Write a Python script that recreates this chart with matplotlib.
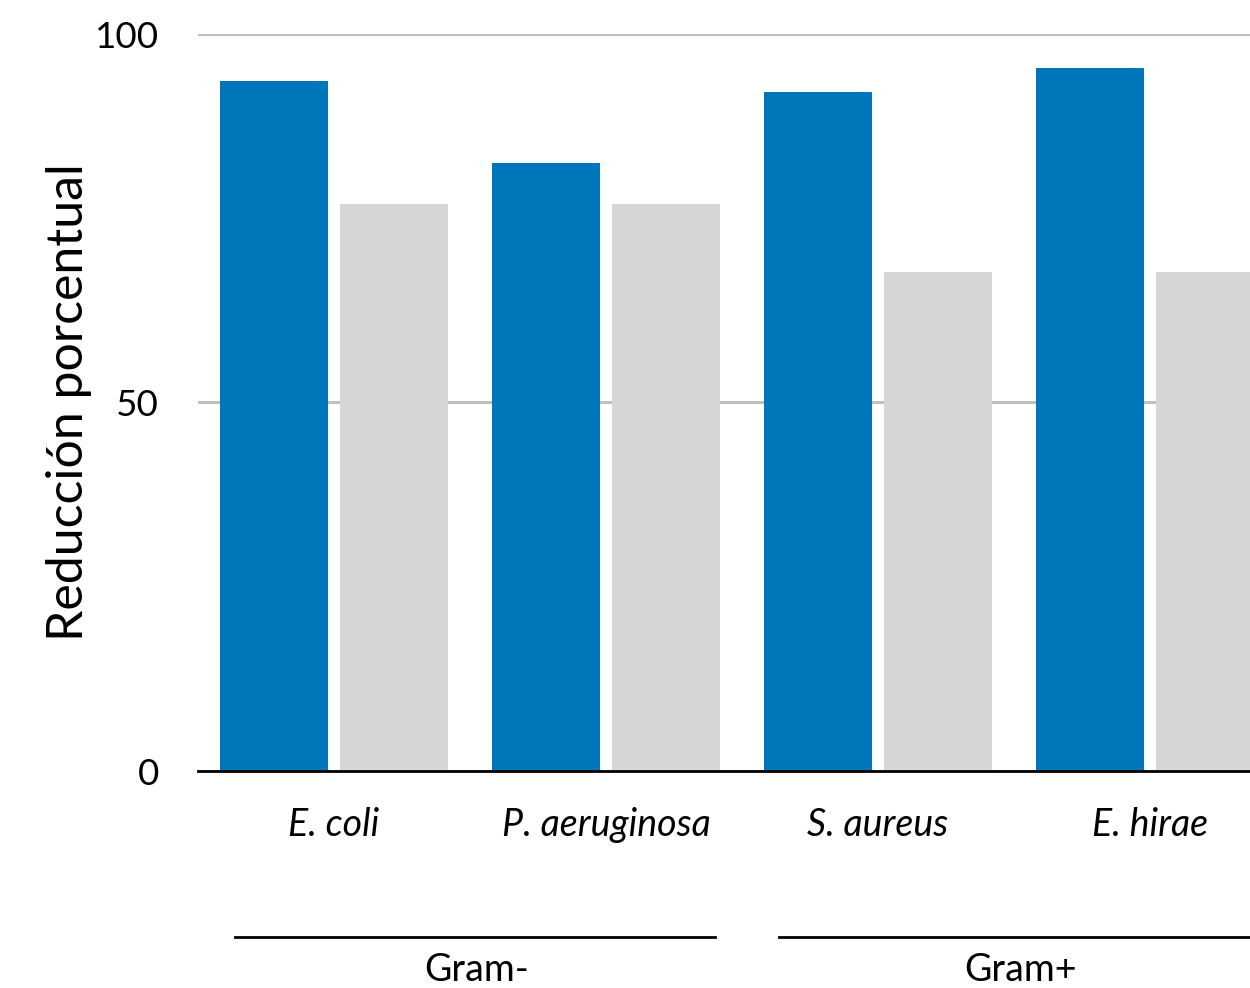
import matplotlib
matplotlib.use("Agg")
import matplotlib.pyplot as plt
import matplotlib.transforms as mtransforms
import numpy as np

categories = ["E. coli", "P. aeruginosa", "S. aureus", "E. hirae"]
series_blue = [93.6, 82.5, 92.1, 95.4]
series_gray = [76.9, 76.9, 67.7, 67.7]
groups = ["Gram-", "Gram+"]
group_members = [[0, 1], [2, 3]]
yticks = [0, 50, 100]

plt.rcParams['font.family'] = ['Lato', 'DejaVu Sans']

W, H = 1250, 988
fig = plt.figure(figsize=(W / 100, H / 100), dpi=100)
left, right, top, bottom = 198, 1250, 34, 771
ax = fig.add_axes([left / W, 1 - bottom / H, (right - left) / W, (bottom - top) / H])

x = np.arange(len(categories))
bw = 0.397
off = 0.221
ax.bar(x - off, series_blue, width=bw, color="#0076BA", zorder=3)
ax.bar(x + off, series_gray, width=bw, color="#D6D6D6", zorder=3)

ax.set_xlim(-0.5, (right - left) / 272 - 0.5)
ax.set_ylim(0, 100)
ax.set_yticks(yticks)
ax.set_yticklabels([str(v) for v in yticks], fontsize=26.5)
ax.tick_params(axis='y', length=0, pad=28)
ax.set_xticks(x)
ax.set_xticklabels(categories, fontsize=27, style='italic')
ax.tick_params(axis='x', length=0, pad=26)

ax.yaxis.grid(True, color="#BFBFBF", linewidth=2.2, zorder=0)
ax.set_axisbelow(True)
for s in ["top", "right", "left"]:
    ax.spines[s].set_visible(False)
ax.spines["bottom"].set_linewidth(2)
ax.spines["bottom"].set_color("black")
ax.spines["bottom"].set_zorder(4)

ax.set_ylabel("Reducción porcentual", fontsize=36)
ax.yaxis.set_label_coords(-(left - 92) / (right - left), 0.5)

trans = mtransforms.blended_transform_factory(ax.transData, ax.transAxes)
line_y = -(937 - bottom) / (bottom - top)
text_y = -(970 - bottom) / (bottom - top)
for gi, (g, mem) in enumerate(zip(groups, group_members)):
    x0 = mem[0] - 0.365
    x1 = mem[-1] + 0.40
    ax.plot([x0, x1], [line_y, line_y], transform=trans, color="black",
            linewidth=2, clip_on=False)
    ax.text((mem[0] + mem[-1]) / 2 + 0.025, text_y, g, transform=trans, fontsize=27,
            ha="center", va="center")

fig.savefig("out.png", dpi=100)
